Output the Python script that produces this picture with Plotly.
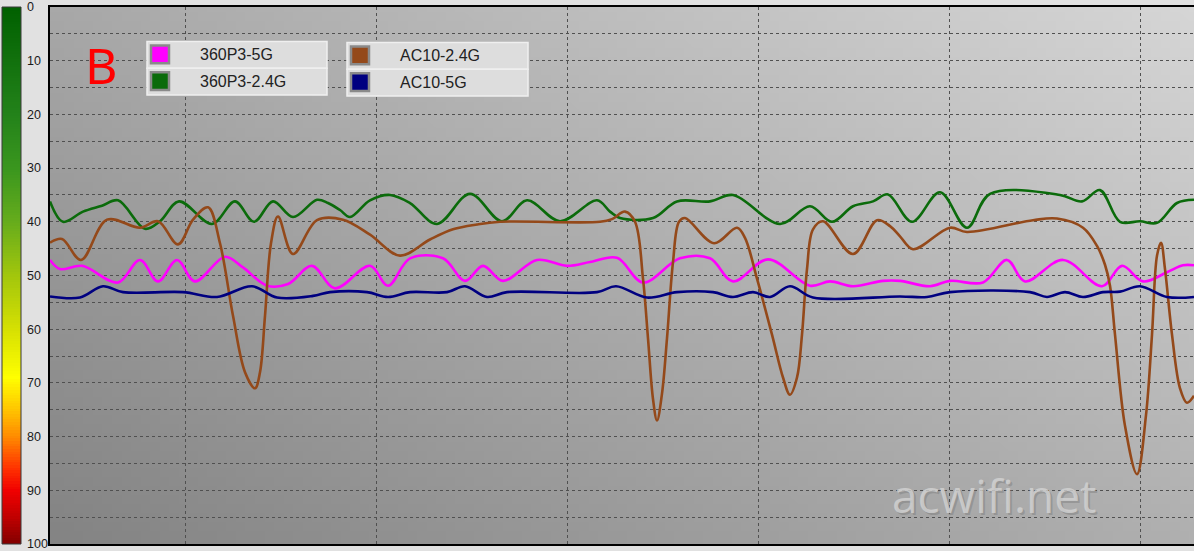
import base64, struct, zlib
import numpy as np
import plotly.graph_objects as go

W, H = 1194, 551
# ---------------- data (x = time position, y = signal value, 0 top .. 100 bottom)
series_names = ["360P3-5G", "360P3-2.4G", "AC10-2.4G", "AC10-5G"]
series_colors = ["#ff00ff", "#0b6b0b", "#94491a", "#000080"]

magenta_x = [0, 10, 32, 68, 90, 108, 127, 145, 175, 193, 217, 238, 262, 285, 320, 338, 360, 393, 415, 433, 453,
             487, 517, 540, 567, 593, 630, 660, 683, 718, 760, 780, 803, 833, 850, 880, 900, 933, 957, 975, 1013,
             1052, 1072, 1093, 1117, 1133, 1144]
magenta_y = [47.1, 48.8, 48.2, 51.3, 47.1, 51.1, 47.1, 51.1, 46.5, 48.5, 51.9, 51.6, 48.2, 52.4, 48.2, 51.9, 46.8,
             46.8, 51.0, 48.2, 51.0, 47.1, 48.2, 47.5, 46.7, 51.3, 46.8, 46.8, 51.1, 47.0, 51.9, 51.1, 52.0, 51.0,
             51.0, 52.0, 51.0, 51.3, 47.1, 51.1, 47.1, 52.0, 48.2, 51.1, 49.4, 48.1, 48.1]

green_x = [0, 13, 33, 52, 68, 95, 110, 129, 162, 185, 204, 223, 243, 267, 278, 290, 300, 320, 340, 360, 387, 420,
           452, 477, 510, 547, 560, 570, 603, 627, 660, 683, 730, 760, 782, 803, 823, 838, 862, 890, 917, 940,
           1010, 1032, 1050, 1070, 1090, 1107, 1127, 1144]
green_y = [36.2, 40.0, 38.1, 37.0, 36.0, 41.3, 39.9, 36.2, 40.4, 36.2, 40.0, 36.2, 39.1, 35.9, 36.5, 37.8, 39.1,
           36.0, 35.0, 36.5, 40.4, 34.8, 39.9, 36.0, 39.9, 36.0, 38.1, 39.3, 39.3, 36.2, 36.2, 35.0, 40.4, 37.1,
           40.0, 37.1, 36.2, 34.9, 40.0, 34.5, 41.1, 34.8, 35.0, 36.2, 34.1, 40.0, 39.9, 40.2, 36.5, 35.9]

brown_x = [0, 12, 31, 57, 90, 108, 128, 143, 158, 170, 183, 195, 205, 210, 215, 221, 228, 243, 267, 293, 320, 350,
           380, 403, 427, 450, 550, 562, 575, 585, 593, 598, 603, 607, 612, 617, 623, 629, 635, 664, 687, 695, 707,
           722, 733, 740, 747, 752, 757, 763, 773, 803, 827, 840, 850, 863, 900, 917, 983, 1007, 1033, 1047, 1055,
           1060, 1065, 1075, 1087, 1096, 1102, 1107, 1111, 1115, 1122, 1130, 1137, 1144]
brown_y = [43.9, 43.2, 47.1, 39.6, 41.1, 39.9, 44.2, 39.6, 37.3, 44.0, 57.5, 68.0, 71.0, 68.0, 57.5, 44.0, 39.0,
           46.0, 39.7, 39.6, 42.4, 46.3, 43.3, 41.4, 40.5, 40.0, 40.0, 39.5, 38.1, 40.0, 50.6, 61.7, 73.0, 77.0,
           72.0, 61.7, 47.5, 40.0, 39.3, 44.0, 41.1, 43.0, 50.6, 61.0, 69.0, 72.2, 69.0, 61.0, 48.8, 41.4, 39.9,
           46.0, 39.7, 40.8, 42.7, 45.1, 41.1, 41.9, 39.7, 39.4, 41.1, 44.5, 48.0, 51.9, 61.0, 78.0, 87.0, 76.0,
           61.0, 46.3, 43.9, 48.8, 61.0, 71.0, 73.7, 72.4]

navy_x = [0, 30, 53, 73, 133, 167, 202, 227, 263, 280, 317, 338, 360, 397, 415, 437, 457, 547, 566, 597, 627, 663,
          683, 703, 720, 740, 763, 850, 877, 900, 980, 997, 1015, 1033, 1053, 1070, 1090, 1117, 1144]
navy_y = [53.9, 54.1, 52.0, 53.1, 53.1, 54.0, 52.0, 54.1, 53.8, 53.1, 53.1, 54.0, 53.1, 53.1, 52.0, 54.0, 53.1,
          53.1, 52.0, 54.1, 53.1, 53.1, 54.0, 53.1, 54.0, 52.0, 54.1, 53.9, 54.0, 53.1, 53.1, 54.0, 53.1, 54.0,
          53.1, 53.0, 52.0, 54.0, 54.0]

y_ticks = list(range(0, 101, 10))
x_span = 1144

# ---------------- layout geometry
PLOT_L = 50 / W

def png_uri(arr):
    h, w, _ = arr.shape
    raw = b"".join(b"\x00" + arr[i].tobytes() for i in range(h))
    def chunk(tag, data):
        return struct.pack(">I", len(data)) + tag + data + struct.pack(">I", zlib.crc32(tag + data) & 0xffffffff)
    png = (b"\x89PNG\r\n\x1a\n" + chunk(b"IHDR", struct.pack(">IIBBBBB", w, h, 8, 2, 0, 0, 0))
           + chunk(b"IDAT", zlib.compress(raw)) + chunk(b"IEND", b""))
    return "data:image/png;base64," + base64.b64encode(png).decode()

gw, gh = 120, 60
u = np.linspace(0, 1, gw)[None, :]
v = np.linspace(0, 1, gh)[:, None]
TL, TR, BL, BR = 168, 214, 132, 176
g = TL * (1 - u) * (1 - v) + TR * u * (1 - v) + BL * (1 - u) * v + BR * u * v
bg = np.clip(np.stack([g, g, g], axis=-1), 0, 255).astype(np.uint8)

fig = go.Figure()

for name, color, xs, ys in zip(series_names, series_colors,
                               [magenta_x, green_x, brown_x, navy_x],
                               [magenta_y, green_y, brown_y, navy_y]):
    fig.add_trace(go.Scatter(x=xs, y=ys, mode="lines", name=name,
                             line=dict(color=color, width=2.6, shape="spline", smoothing=1.0),
                             showlegend=False, hoverinfo="skip"))

# colour bar
cb_vals = np.arange(0, 100.01, 0.5)
fig.add_trace(go.Heatmap(x=[0], y=cb_vals, z=[[val] for val in cb_vals], xaxis="x2", yaxis="y2",
                         zmin=0, zmax=100, showscale=False, hoverinfo="skip",
                         colorscale=[[0, "#006000"], [0.2, "#23821a"], [0.3, "#3a961e"], [0.4, "#66ac1c"],
                                     [0.5, "#a2c60c"], [0.6, "#d6e002"], [0.69, "#ffff00"], [0.75, "#ffc400"],
                                     [0.8, "#ff8a00"], [0.86, "#ff3000"], [0.9, "#f00000"], [0.95, "#c00000"],
                                     [1, "#800000"]]))

grid = dict(showgrid=True, gridcolor="#505050", gridwidth=1, griddash="3px,3px", zeroline=False)
fig.update_layout(
    width=W, height=H,
    margin=dict(l=0, r=0, t=5, b=3),
    paper_bgcolor="#e1e1e1", plot_bgcolor="#a8a8a8",
    xaxis=dict(domain=[PLOT_L, 1], range=[0, x_span], tick0=135, dtick=191, showticklabels=False,
               showline=True, mirror=True, linecolor="#000000", linewidth=1.5, **grid),
    yaxis=dict(range=[100, 0], dtick=5, showticklabels=False, showline=True, linecolor="#000000",
               linewidth=1.5, anchor="x", **grid),
    xaxis2=dict(domain=[2 / W, 21 / W], range=[-0.5, 0.5], showticklabels=False, showgrid=False,
                zeroline=False, anchor="y2"),
    yaxis2=dict(domain=[0, 1], range=[100, 0], side="right", anchor="x2", tickvals=y_ticks,
                ticktext=[str(t) for t in y_ticks], ticks="", showgrid=False, zeroline=False,
                ticklabelstandoff=5, ticklabeloverflow="allow",
                tickfont=dict(family="Liberation Sans", size=12.5, color="#1a1a1a")),
    images=[dict(source=png_uri(bg), xref="paper", yref="paper", x=PLOT_L, y=1, sizex=1 - PLOT_L, sizey=1,
                 xanchor="left", yanchor="top", sizing="stretch", layer="below")],
)

shapes = [dict(type="rect", xref="paper", yref="paper", x0=2 / W, x1=21 / W, y0=0, y1=1,
               line=dict(color="#3a3a3a", width=1), fillcolor="rgba(0,0,0,0)")]

# custom legend boxes
def ypx(py):
    return 1 - (py - 5) / (548 - 5)

def xpx(px):
    return px / W

legend_pos = [(147, 327, 40, 151, 198), (147, 327, 67, 151, 198), (347, 528, 41, 351, 398), (347, 528, 68, 351, 398)]
annotations = []
for (name, color), (bx0, bx1, by0, sx, tx) in zip(zip(series_names, series_colors), legend_pos):
    shapes.append(dict(type="rect", xref="paper", yref="paper", x0=xpx(bx0), x1=xpx(bx1), y0=ypx(by0 + 27),
                       y1=ypx(by0), fillcolor="#dddddd", line=dict(color="#efefef", width=1.5), layer="above"))
    shapes.append(dict(type="rect", xref="paper", yref="paper", x0=xpx(sx), x1=xpx(sx + 18), y0=ypx(by0 + 22),
                       y1=ypx(by0 + 4), fillcolor=color, line=dict(color="#8a8a8a", width=2.5), layer="above"))
    annotations.append(dict(xref="paper", yref="paper", x=xpx(tx), y=ypx(by0 + 13.5), xanchor="left",
                            yanchor="middle", text=name, showarrow=False,
                            font=dict(family="Liberation Sans", size=16, color="#222222")))

annotations.append(dict(xref="paper", yref="paper", x=xpx(101), y=ypx(64), text="B", showarrow=False,
                        xanchor="center", yanchor="middle",
                        font=dict(family="Noto Sans", size=50, color="#ff0000")))
annotations.append(dict(xref="paper", yref="paper", x=xpx(996), y=ypx(500), text="acwifi.net", showarrow=False,
                        xanchor="center", yanchor="middle",
                        font=dict(family="Open Sans", size=46, color="rgba(110,110,110,0.35)")))
annotations.append(dict(xref="paper", yref="paper", x=xpx(994), y=ypx(498), text="acwifi.net", showarrow=False,
                        xanchor="center", yanchor="middle",
                        font=dict(family="Open Sans", size=46, color="rgba(212,212,212,0.8)")))

fig.update_layout(shapes=shapes, annotations=annotations)
fig.write_html("out.html", config={"displayModeBar": False},
               post_script="document.body.style.margin='0px';document.body.style.overflow='hidden';")
